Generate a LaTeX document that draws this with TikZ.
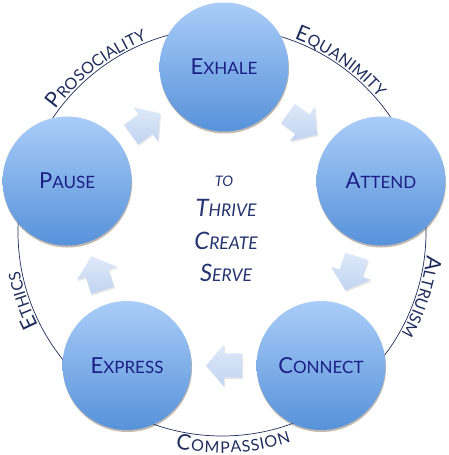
\documentclass[tikz,border=0pt]{standalone}
\usepackage{fontspec}
\setmainfont{Lato}
\usetikzlibrary{calc,shadows,decorations.text}
\definecolor{arcc}{HTML}{1F2D5C}
\definecolor{nodec}{HTML}{1B1F86}
\definecolor{midc}{HTML}{24346F}
\definecolor{ctop}{HTML}{AACDF8}
\definecolor{cbot}{HTML}{5792DA}
\definecolor{atop}{HTML}{DFE9F9}
\definecolor{abot}{HTML}{C0D4F1}
\newcommand\nbig{\fontsize{22}{22}\selectfont}
\newcommand\nsml{\fontsize{17}{17}\selectfont}
\newcommand\fsc[2]{{\nbig #1}{\nsml #2}}
\newcommand\abig{\color{arcc}\fontsize{21.5}{21.5}\selectfont}
\newcommand\asml{\color{arcc}\fontsize{16}{16}\selectfont}
\newcommand\mbig{\fontsize{24}{24}\selectfont}
\newcommand\msml{\fontsize{17.5}{17.5}\selectfont}
\tikzset{
 stage/.style={circle, minimum size=129pt, inner sep=0pt, top color=ctop, bottom color=cbot, text=nodec,
   drop shadow={shadow xshift=0.5pt, shadow yshift=-2pt, opacity=0.35, fill=black!60!brown}},
 flowarrow/.style={top color=atop, bottom color=abot,
   drop shadow={shadow xshift=1pt, shadow yshift=-1.5pt, opacity=0.2}},
 ring/.style={draw=arcc, line width=0.7pt},
 midtext/.style={text=midc, font=\itshape, anchor=base, inner sep=0pt},
}
\begin{document}
\begin{tikzpicture}[x=1pt,y=1pt]
\useasboundingbox (0,0) rectangle (449,455);
\coordinate (ring) at (222,223);
\coordinate (mid) at (224,223);
\draw[ring] (ring) circle[radius=204];
% arc labels
\path[decorate, decoration={text along path, text align=center, raise=2pt,
  text={|\abig|P|\asml|ROSOCIALITY}}] ($(ring)+(172:204)$) arc[start angle=172, end angle=83, radius=204];
\path[decorate, decoration={text along path, text align=center, raise=2pt,
  text={|\abig|E|\asml|QUANIMITY}}] ($(ring)+(100:204)$) arc[start angle=100, end angle=10, radius=204];
\path[decorate, decoration={text along path, text align=center, raise=2pt,
  text={|\abig|A|\asml|LTRUISM}}] ($(ring)+(25:204)$) arc[start angle=25, end angle=-61, radius=204];
\path[decorate, decoration={text along path, text align=center, raise=-17pt,
  text={|\abig|C|\asml|OMPASSION}}] ($(ring)+(-132:204)$) arc[start angle=-132, end angle=-42, radius=204];
\path[decorate, decoration={text along path, text align=center, raise=2pt,
  text={|\abig|E|\asml|THICS}}] ($(ring)+(242:204)$) arc[start angle=242, end angle=156, radius=204];
% stages
\node[stage] (exhale) at ($(mid)+(90:165)$) {\fsc{E}{XHALE}};
\node[stage] (attend) at ($(mid)+(18:165)$) {\fsc{A}{TTEND}};
\node[stage] (connect) at ($(mid)+(-54:165)$) {\fsc{C}{ONNECT}};
\node[stage] (express) at ($(mid)+(-126:165)$) {\fsc{E}{XPRESS}};
\node[stage] (pause) at ($(mid)+(162:165)$) {\fsc{P}{AUSE}};
% arrows
\foreach \a/\b/\ang in {pause/exhale/36, exhale/attend/-36, attend/connect/-108, connect/express/180, express/pause/108} {
  \begin{scope}[shift={($(\a)!0.5!(\b)$)}, rotate=\ang]
    \path[flowarrow] (-18,-12) -- (0,-12) -- (0,-21) -- (18,0) -- (0,21) -- (0,12) -- (-18,12) -- cycle;
  \end{scope}
}
% centre text
\node[midtext] (to) at (224,268) {\fontsize{14.5}{14.5}\selectfont TO};
\node[midtext] (thrive) at (226,238) {\mbig T\msml HRIVE};
\node[midtext] (create) at (226,205) {\mbig C\msml REATE};
\node[midtext] (serve) at (226,173) {\mbig S\msml ERVE};
\end{tikzpicture}
\end{document}
